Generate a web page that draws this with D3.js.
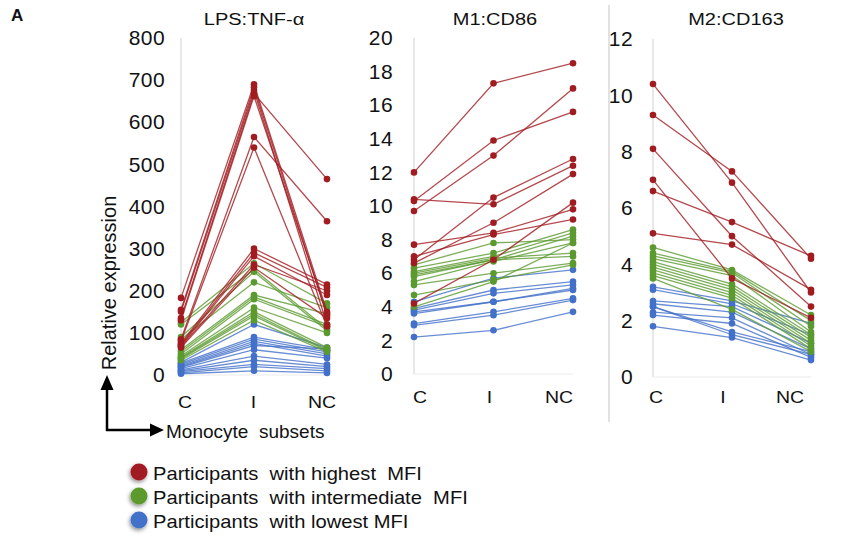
<!DOCTYPE html>
<html>
<head>
<meta charset="utf-8">
<script src="https://cdn.jsdelivr.net/npm/d3@7"></script>
<style>
  body { margin: 0; background: #fff; }
  text { font-family: "Liberation Sans", Arial, sans-serif; fill: #111; }
</style>
</head>
<body>
<svg id="chart" width="849" height="536"></svg>
<script>
// monocyte subsets on the x axis
const subsets = ['C', 'I', 'NC'];

const groupNames = ['Participants  with highest  MFI', 'Participants  with intermediate  MFI', 'Participants  with lowest MFI'];
const groupColors = ['#a11c20', '#5b9a2f', '#4371c9'];

// LPS:TNF-a, one row per participant: [C, I, NC]
const tnfHigh = [
  [183, 690, 150], [155, 683, 140], [150, 675, 120], [135, 668, 465],
  [130, 662, 145], [85, 565, 365], [80, 540, 115], [75, 300, 215],
  [72, 290, 208], [70, 282, 190], [68, 262, 200], [65, 255, 135]
];
const tnfMid = [
  [125, 265, 170], [120, 250, 110], [90, 245, 105], [85, 220, 160],
  [60, 190, 145], [55, 185, 120], [50, 180, 115], [45, 160, 100],
  [42, 150, 65], [40, 145, 60], [38, 140, 58], [35, 130, 55]
];
const tnfLow = [
  [30, 120, 65], [28, 90, 60], [25, 85, 55], [22, 80, 50],
  [20, 75, 45], [18, 70, 62], [15, 60, 40], [12, 45, 25],
  [10, 35, 20], [8, 25, 15], [5, 20, 10], [3, 10, 5]
];

// M1:CD86
const cd86High = [
  [12.0, 17.3, 18.5], [10.3, 13.9, 15.6], [9.7, 13.0, 17.0],
  [10.4, 10.1, 12.4], [6.8, 10.5, 12.8], [7.7, 8.4, 9.8],
  [7.0, 8.3, 9.2], [6.6, 9.0, 11.9], [4.2, 6.8, 10.2]
];
const cd86Mid = [
  [6.5, 7.8, 8.0], [6.3, 7.2, 8.6], [6.1, 7.0, 8.4], [6.0, 6.9, 7.2],
  [5.9, 6.8, 7.0], [5.8, 6.8, 8.2], [5.5, 6.7, 7.8], [5.3, 6.0, 6.6],
  [4.7, 5.6, 6.5], [4.0, 5.5, 7.8]
];
const cd86Low = [
  [4.3, 5.7, 6.2], [3.9, 5.0, 5.5], [3.8, 4.8, 5.3], [3.7, 4.3, 5.1],
  [3.6, 4.3, 5.0], [3.0, 3.7, 4.5], [2.9, 3.5, 4.4], [2.2, 2.6, 3.7]
];

// M2:CD163
const cd163High = [
  [10.4, 6.9, 3.0], [9.3, 7.3, 4.2], [8.1, 5.0, 2.5],
  [7.0, 3.5, 2.1], [6.6, 5.5, 4.3], [5.1, 4.7, 3.1]
];
const cd163Mid = [
  [4.6, 3.8, 2.2], [4.4, 3.75, 2.0], [4.3, 3.7, 1.8], [4.2, 3.6, 1.6],
  [4.1, 3.3, 1.5], [4.0, 3.2, 1.4], [3.9, 3.1, 1.3], [3.8, 3.0, 1.2],
  [3.7, 2.9, 1.1], [3.6, 2.8, 1.0], [3.5, 2.4, 0.9]
];
const cd163Low = [
  [3.2, 2.7, 1.9], [3.1, 2.6, 1.5], [2.7, 2.5, 1.2], [2.6, 2.3, 1.0],
  [2.5, 1.6, 0.9], [2.3, 2.1, 0.8], [2.2, 1.9, 0.7], [2.5, 1.5, 0.8],
  [1.8, 1.4, 0.6]
];

const tnfTicks = [0, 100, 200, 300, 400, 500, 600, 700, 800];
const cd86Ticks = [0, 2, 4, 6, 8, 10, 12, 14, 16, 18, 20];
const cd163Ticks = [0, 2, 4, 6, 8, 10, 12];

const panels = [
  { title: 'LPS:TNF-\u03b1', series: [tnfHigh, tnfMid, tnfLow], ticks: tnfTicks,
    x0: 181, x1: 327, y0: 375, y1: 38, pad: 16, lab0: 185, lab1: 322, labY: 408, titleX: 254 },
  { title: 'M1:CD86', series: [cd86High, cd86Mid, cd86Low], ticks: cd86Ticks,
    x0: 414, x1: 573, y0: 374, y1: 38, pad: 21, lab0: 420, lab1: 559, labY: 403, titleX: 495 },
  { title: 'M2:CD163', series: [cd163High, cd163Mid, cd163Low], ticks: cd163Ticks,
    x0: 653, x1: 811, y0: 377, y1: 39, pad: 20, lab0: 656, lab1: 790, labY: 403, titleX: 736 }
];

const svg = d3.select('#chart');

svg.append('text')
  .attr('x', 11).attr('y', 21)
  .style('font-weight', 'bold').style('font-size', '17px')
  .text('A');

// separator between the 2nd and 3rd panel
svg.append('line')
  .attr('x1', 609).attr('x2', 609).attr('y1', 5).attr('y2', 422)
  .attr('stroke', '#cfcfcf').attr('stroke-width', 1.2);

panels.forEach(function(p){
  const g = svg.append('g');
  const x = d3.scalePoint().domain(subsets).range([p.x0, p.x1]);
  const y = d3.scaleLinear().domain([0, d3.max(p.ticks)]).range([p.y0, p.y1]);

  // light frame lines
  g.append('line')
    .attr('x1', p.x0).attr('x2', p.x0).attr('y1', y(d3.max(p.ticks))).attr('y2', y(0))
    .attr('stroke', '#d9d9d9').attr('stroke-width', 1.2);
  g.append('line')
    .attr('x1', p.x0).attr('x2', p.x1).attr('y1', y(0)).attr('y2', y(0))
    .attr('stroke', '#ececec').attr('stroke-width', 1.2);

  const axis = g.append('g')
    .attr('transform', `translate(${p.x0},0)`)
    .call(d3.axisLeft(y).tickValues(p.ticks).tickSize(0).tickPadding(p.pad));
  axis.select('.domain').remove();
  axis.selectAll('text')
    .style('font-size', '21px')
    .style('letter-spacing', '0.4px')
    .style('font-family', '"Liberation Sans", Arial, sans-serif')
    .attr('fill', '#111');

  // category labels, slightly inside the point positions
  const xl = d3.scalePoint().domain(subsets).range([p.lab0, p.lab1]);
  g.selectAll('.cat')
    .data(subsets)
    .enter().append('text')
    .attr('class', 'cat')
    .attr('text-anchor', 'middle')
    .attr('transform', d => `translate(${xl(d)},${p.labY}) scale(1.22,1)`)
    .style('font-size', '16px')
    .text(d => d);

  g.append('text')
    .attr('text-anchor', 'middle')
    .attr('transform', `translate(${p.titleX},25) scale(1.25,1)`)
    .style('font-size', '16px')
    .text(p.title);

  const line = d3.line()
    .x((d, i) => x(subsets[i]))
    .y(d => y(d));

  // draw lowest group first so the red sits on top
  [2, 1, 0].forEach(function(gi){
    const rows = p.series[gi];
    const col = groupColors[gi];
    const sg = g.append('g');
    sg.selectAll('path')
      .data(rows)
      .enter().append('path')
      .attr('d', line)
      .attr('fill', 'none')
      .attr('stroke', col)
      .attr('stroke-opacity', 0.8)
      .attr('stroke-width', 1.3);
    rows.forEach(function(r){
      sg.selectAll(null)
        .data(r)
        .enter().append('circle')
        .attr('cx', (d, i) => x(subsets[i]))
        .attr('cy', d => y(d))
        .attr('r', 3.3)
        .attr('fill', col);
    });
  });
});

// y axis label
svg.append('text')
  .attr('transform', 'translate(116,283) rotate(-90)')
  .attr('text-anchor', 'middle')
  .style('font-size', '20px')
  .text('Relative expression');

// axis arrows
const arrows = svg.append('g');
arrows.append('path')
  .attr('d', 'M107,431 L107,388 M106,430 L151,430')
  .attr('fill', 'none').attr('stroke', '#000').attr('stroke-width', 2.5);
arrows.append('path')
  .attr('d', 'M107,375 L100.5,390 L113.5,390 Z M164,430 L150,423.5 L150,436.5 Z')
  .attr('fill', '#000');
svg.append('text')
  .attr('x', 166).attr('y', 438)
  .style('font-size', '19px')
  .style('white-space', 'pre')
  .text('Monocyte  subsets');

// legend
const defs = svg.append('defs');
const shadow = defs.append('filter').attr('id', 'shadow')
  .attr('x', '-60%').attr('y', '-60%').attr('width', '220%').attr('height', '220%');
shadow.append('feDropShadow')
  .attr('dx', -1).attr('dy', 2).attr('stdDeviation', 2)
  .attr('flood-color', '#000').attr('flood-opacity', 0.45);

const legend = svg.append('g').attr('transform', 'translate(139,472)');
const item = legend.selectAll('g')
  .data(groupNames)
  .enter().append('g')
  .attr('transform', (d, i) => `translate(0,${i * 24})`);
item.append('circle')
  .attr('r', 8.5)
  .attr('fill', (d, i) => groupColors[i])
  .attr('filter', 'url(#shadow)');
item.append('text')
  .attr('transform', 'translate(14,8) scale(1.12,1)')
  .style('font-size', '18px')
  .style('white-space', 'pre')
  .text(d => d);
</script>
</body>
</html>
